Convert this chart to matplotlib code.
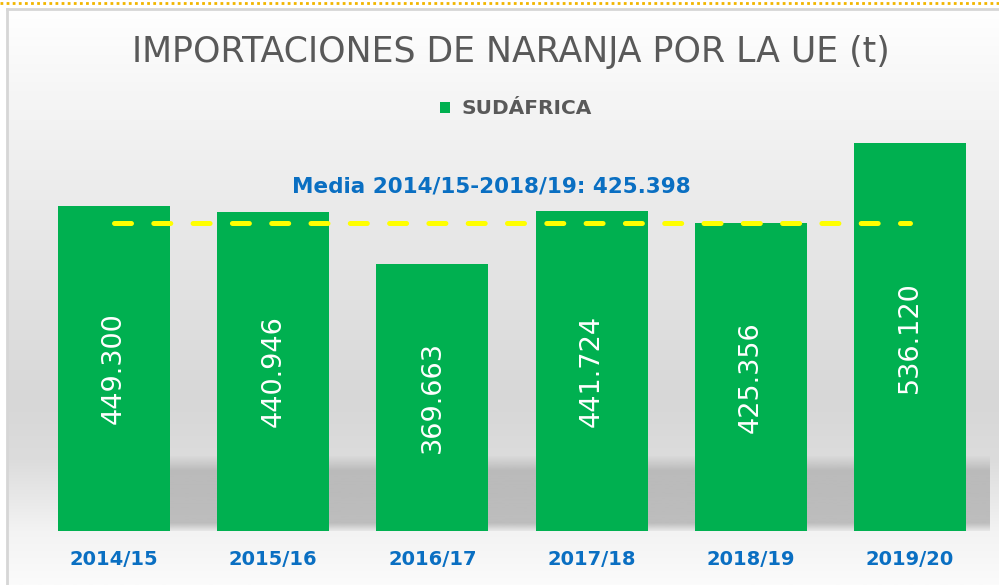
import numpy as np
import matplotlib.pyplot as plt
from matplotlib.colors import to_rgb

# Data
campaigns = ['2014/15', '2015/16', '2016/17', '2017/18', '2018/19', '2019/20']
imports_t = [449300, 440946, 369663, 441724, 425356, 536120]
country = 'SUDÁFRICA'
meanLabel = 'Media 2014/15-2018/19'
meanValue = int(round(np.mean(imports_t[:5])))

def fmtThousands(v):
    return f'{v:,}'.replace(',', '.')

W, H = 999, 585
green = '#00b050'
blue = '#0a6fc2'
gray = '#595959'

fig = plt.figure(figsize=(W / 100, H / 100), dpi=100)

# Background: frame with vertical gray gradient
axBg = fig.add_axes([0, 0, 1, 1])
axBg.set_xlim(0, W)
axBg.set_ylim(H, 0)
axBg.axis('off')
stopsY = [9, 100, 250, 400, 460, 531, 585]
stopsC = ['#ffffff', '#f5f5f5', '#e6e6e6', '#d7d7d7', '#dcdcdc', '#f3f3f3', '#fbfbfb']
ys = np.arange(9, H + 1)
rgb = np.array([to_rgb(c) for c in stopsC])
grad = np.stack([np.interp(ys, stopsY, rgb[:, k]) for k in range(3)], axis=-1)
axBg.imshow(grad[:, None, :], extent=(8, W, H, 9), aspect='auto', zorder=0)
axBg.plot([7, 7], [9, H], color='#d6d6d6', lw=2, zorder=1)
axBg.plot([7, W], [9, 9], color='#d6d6d6', lw=2, zorder=1)
axBg.plot([0, W], [3, 3], color='#f2b600', lw=2, ls=(0, (1, 1.2)), zorder=1)

# Chart axes
ax = fig.add_axes([34.4 / W, 54 / H, 955.2 / W, 434 / H])
ax.set_facecolor('none')
x = np.arange(len(campaigns))
barWidth = 0.703
ax.set_xlim(-0.5, len(campaigns) - 0.5)
ax.set_ylim(0, 600000)

# Shadow band behind the bars
shadowTop = 105000
alpha = np.interp(np.linspace(1, 0, 80), [0, 0.1, 0.8, 1], [0.2, 0.85, 0.85, 0])
shadow = np.zeros((80, 1, 4))
shadow[..., :3] = to_rgb('#b4b4b4')
shadow[:, 0, 3] = alpha
ax.imshow(shadow, extent=(-barWidth / 2, x[-1] + barWidth / 2 + 0.15, 0, shadowTop),
          aspect='auto', zorder=1)

bars = ax.bar(x, imports_t, width=barWidth, color=green, zorder=2, label=country)

for xi, v in zip(x, imports_t):
    ax.text(xi, v / 2, fmtThousands(v), rotation=90, ha='center', va='center',
            color='white', fontsize=19.5, zorder=3)

# Mean line
ax.plot([x[0], x[-1]], [meanValue, meanValue], color='#ffff00', lw=3.6,
        ls=(0, (3.4, 4.46)), dash_capstyle='round', solid_capstyle='round', zorder=4)
ax.text(2.371, 476700, f'{meanLabel}: {fmtThousands(meanValue)}', ha='center',
        va='center', color=blue, fontsize=15.5, fontweight='bold', zorder=4)

ax.set_xticks(x)
ax.set_xticklabels(campaigns, fontsize=14, fontweight='bold', color=blue)
ax.tick_params(axis='x', length=0, pad=14)
ax.set_yticks([])
for s in ax.spines.values():
    s.set_visible(False)

fig.text(511 / W, 1 - 52 / H, 'IMPORTACIONES DE NARANJA POR LA UE (t)', ha='center',
         va='center', color=gray, fontsize=25)
fig.legend(handles=[bars], labels=[country], loc='center', frameon=False,
           bbox_to_anchor=(516 / W, 1 - 109 / H), prop={'size': 14.5, 'weight': 'bold'},
           handlelength=0.5, handleheight=0.5, handletextpad=0.55, labelcolor=gray)

fig.savefig('out.png', dpi=100)
